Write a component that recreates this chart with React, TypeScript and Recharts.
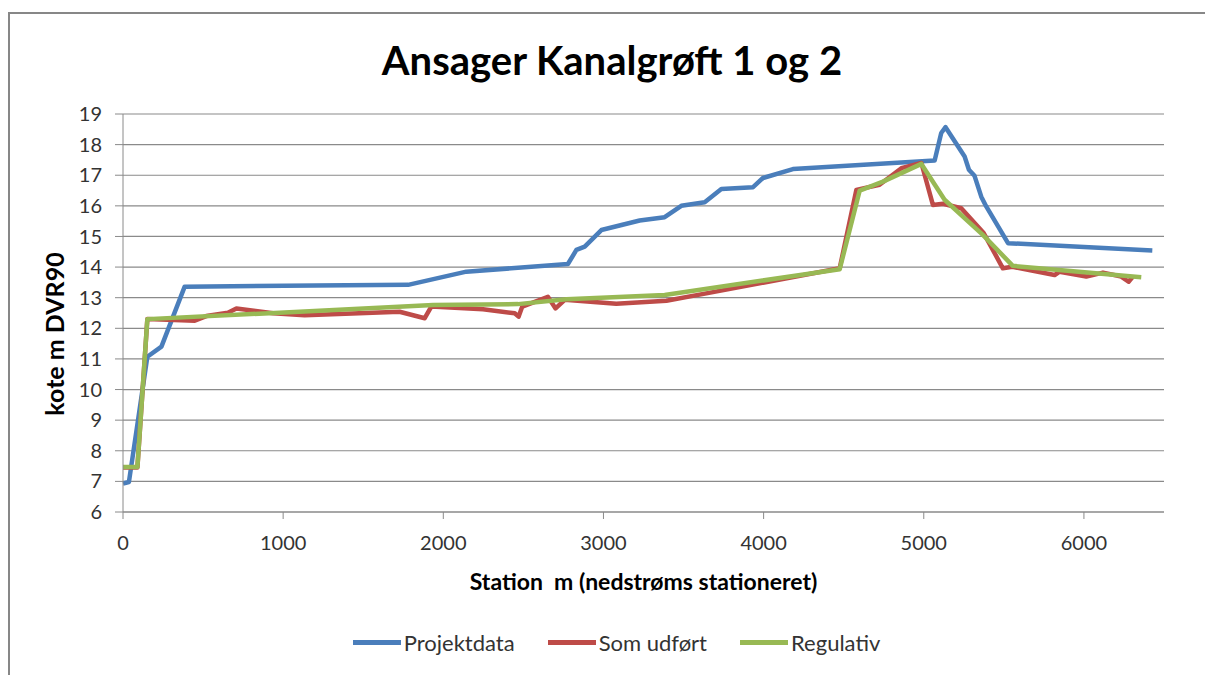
import { LineChart, Line, XAxis, YAxis, CartesianGrid } from "recharts";

// Projektdata (blue)
const projektX = [0, 37, 152, 240, 385, 1780, 2144, 2778, 2831, 2883, 2987, 3226, 3382, 3486, 3632, 3736, 3934, 3996, 4183, 5068, 5109, 5136, 5255, 5282, 5317, 5359, 5390, 5526, 6427];
const projektY = [6.93, 6.98, 11.07, 11.4, 13.36, 13.42, 13.85, 14.1, 14.56, 14.67, 15.21, 15.52, 15.63, 16.0, 16.12, 16.55, 16.61, 16.91, 17.2, 17.48, 18.38, 18.57, 17.61, 17.18, 16.98, 16.3, 15.98, 14.78, 14.54];

// Som udført (red)
const udfoertX = [0, 90, 152, 448, 520, 655, 708, 937, 1134, 1727, 1884, 1925, 2248, 2446, 2470, 2493, 2653, 2701, 2758, 3080, 3393, 3642, 4475, 4579, 4724, 4860, 4985, 5057, 5120, 5234, 5374, 5494, 5553, 5817, 5848, 6015, 6119, 6233, 6279, 6306];
const udfoertY = [7.45, 7.45, 12.3, 12.25, 12.4, 12.51, 12.65, 12.49, 12.43, 12.54, 12.33, 12.71, 12.62, 12.49, 12.38, 12.71, 13.03, 12.65, 12.93, 12.8, 12.9, 13.14, 13.96, 16.52, 16.69, 17.23, 17.4, 16.03, 16.07, 15.92, 15.11, 13.96, 14.01, 13.74, 13.85, 13.69, 13.82, 13.69, 13.52, 13.69];

// Regulativ (green)
const regulativX = [0, 90, 152, 978, 1936, 2466, 2768, 3382, 4475, 4600, 4745, 4985, 5130, 5369, 5556, 5827, 6358];
const regulativY = [7.47, 7.47, 12.3, 12.51, 12.76, 12.79, 12.95, 13.09, 13.93, 16.5, 16.79, 17.37, 16.2, 15.05, 14.04, 13.91, 13.67];

const xTicks = [0, 1000, 2000, 3000, 4000, 5000, 6000];
const yTicks = [6, 7, 8, 9, 10, 11, 12, 13, 14, 15, 16, 17, 18, 19];

const toPoints = (xs: number[], ys: number[]) => xs.map((x, i) => ({ x, y: ys[i] }));

const series = [
  { name: "Projektdata", color: "#4A7EBB", data: toPoints(projektX, projektY) },
  { name: "Som udført", color: "#BE4B48", data: toPoints(udfoertX, udfoertY) },
  { name: "Regulativ", color: "#98B954", data: toPoints(regulativX, regulativY) },
];

const FONT = "Lato, 'Open Sans', sans-serif";
const GRID = "#8a8a8a";

export default function App() {
  return (
    <div
      style={{
        position: "absolute",
        left: 0,
        top: 0,
        width: 1205,
        height: 675,
        overflow: "hidden",
        background: "#fff",
        fontFamily: FONT,
      }}
    >
      {/* chart frame, runs off the right and bottom edge like the screenshot */}
      <div
        style={{
          position: "absolute",
          left: 8,
          top: 12,
          width: 1240,
          height: 700,
          border: "2.5px solid #878787",
        }}
      />
      <div
        style={{
          position: "absolute",
          left: 0,
          width: 1224,
          top: 36,
          textAlign: "center",
          fontSize: 40,
          fontWeight: 700,
          color: "#000",
        }}
      >
        Ansager Kanalgrøft 1 og 2
      </div>

      <LineChart
        width={1205}
        height={675}
        margin={{ top: 114, right: 41, bottom: 103, left: 43 }}
        style={{ position: "absolute", left: 0, top: 0 }}
      >
        <CartesianGrid horizontal vertical={false} stroke={GRID} strokeWidth={1.2} />
        <XAxis
          type="number"
          dataKey="x"
          domain={[0, 6500]}
          ticks={xTicks}
          height={60}
          tickSize={7}
          tickMargin={17}
          stroke={GRID}
          tick={{ fontSize: 20, fill: "#333", fontFamily: FONT }}
          label={({ viewBox }: any) => (
            <text
              x={viewBox.x + viewBox.width / 2}
              y={viewBox.y + 69}
              textAnchor="middle"
              dominantBaseline="central"
              style={{ fontSize: 23, fontWeight: 700, fontFamily: FONT, fill: "#000", whiteSpace: "pre" }}
            >
              Station  m (nedstrøms stationeret)
            </text>
          )}
        />
        <YAxis
          type="number"
          dataKey="y"
          domain={[6, 19]}
          ticks={yTicks}
          width={80}
          tickSize={8}
          tickMargin={13}
          stroke={GRID}
          tick={{ fontSize: 20, fill: "#333", fontFamily: FONT }}
          label={({ viewBox }: any) => {
            const cx = viewBox.x + 11;
            const cy = 334;
            return (
              <text
                x={cx}
                y={cy}
                transform={`rotate(-90 ${cx} ${cy})`}
                textAnchor="middle"
                dominantBaseline="central"
                style={{ fontSize: 25, fontWeight: 700, fontFamily: FONT, fill: "#000" }}
              >
                kote m DVR90
              </text>
            );
          }}
        />
        {series.map((s) => (
          <Line
            key={s.name}
            name={s.name}
            data={s.data}
            dataKey="y"
            type="linear"
            stroke={s.color}
            strokeWidth={4.5}
            strokeLinejoin="round"
            dot={false}
            activeDot={false}
            isAnimationActive={false}
          />
        ))}
      </LineChart>

      <div
        style={{
          position: "absolute",
          left: 0,
          width: 1233,
          top: 629,
          display: "flex",
          justifyContent: "center",
          alignItems: "center",
          gap: 33,
          fontSize: 22,
          color: "#333",
        }}
      >
        {series.map((s) => (
          <div key={s.name} style={{ display: "flex", alignItems: "center" }}>
            <span
              style={{
                display: "inline-block",
                width: 48,
                height: 5,
                background: s.color,
                marginRight: 3,
              }}
            />
            <span>{s.name}</span>
          </div>
        ))}
      </div>
    </div>
  );
}
